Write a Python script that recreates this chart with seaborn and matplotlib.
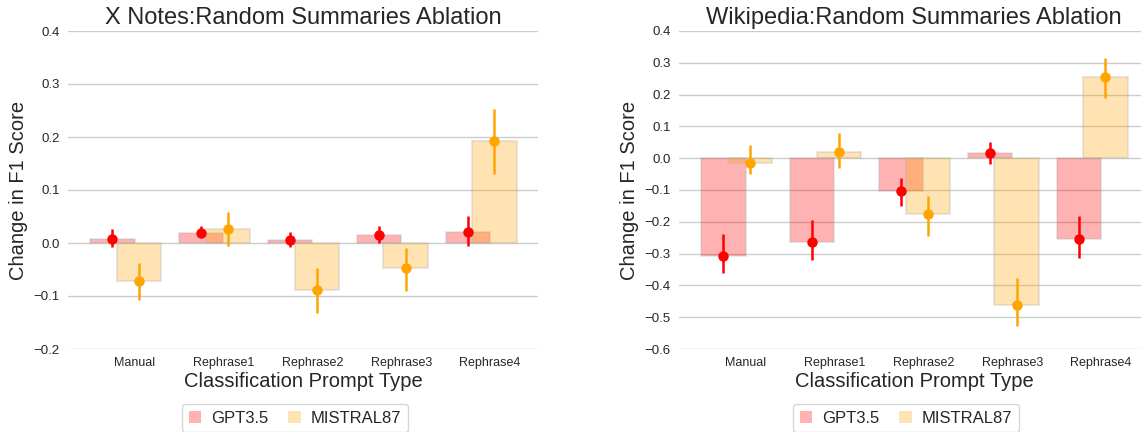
import numpy as np
import pandas as pd
import matplotlib
matplotlib.use("Agg")
import matplotlib.pyplot as plt
from matplotlib.patches import Patch
import seaborn as sns

categories = ["Manual", "Rephrase1", "Rephrase2", "Rephrase3", "Rephrase4"]
models = ["GPT3.5", "MISTRAL87"]

# X Notes panel
x_gpt_mean = [0.008, 0.019, 0.005, 0.015, 0.021]
x_gpt_lo = [-0.008, 0.011, -0.007, 0.000, -0.006]
x_gpt_hi = [0.027, 0.033, 0.020, 0.032, 0.051]
x_mis_mean = [-0.071, 0.026, -0.088, -0.048, 0.192]
x_mis_lo = [-0.107, -0.006, -0.132, -0.090, 0.130]
x_mis_hi = [-0.037, 0.059, -0.047, -0.010, 0.252]

# Wikipedia panel
w_gpt_mean = [-0.308, -0.265, -0.103, 0.017, -0.253]
w_gpt_lo = [-0.360, -0.321, -0.151, -0.017, -0.314]
w_gpt_hi = [-0.237, -0.195, -0.061, 0.051, -0.182]
w_mis_mean = [-0.015, 0.020, -0.177, -0.461, 0.255]
w_mis_lo = [-0.051, -0.031, -0.245, -0.527, 0.190]
w_mis_hi = [0.042, 0.080, -0.119, -0.376, 0.314]

titles = ["X Notes:Random Summaries Ablation", "Wikipedia:Random Summaries Ablation"]
x_yticks = [-0.2, -0.1, 0.0, 0.1, 0.2, 0.3, 0.4]
w_yticks = [-0.6, -0.5, -0.4, -0.3, -0.2, -0.1, 0.0, 0.1, 0.2, 0.3, 0.4]

sns.set_theme(style="whitegrid")
plt.rcParams["font.family"] = ["Liberation Sans", "DejaVu Sans"]

colors = {"GPT3.5": "red", "MISTRAL87": "orange"}
offsets = {"GPT3.5": -0.25, "MISTRAL87": 0.05}

fig = plt.figure(figsize=(11.41, 4.32), dpi=100)
ax1 = fig.add_axes([68 / 1141, 83 / 432, 470 / 1141, 318 / 432])
ax2 = fig.add_axes([679 / 1141, 83 / 432, 470 / 1141, 318 / 432])

panels = [
    (ax1, titles[0], x_yticks,
     {"GPT3.5": (x_gpt_mean, x_gpt_lo, x_gpt_hi), "MISTRAL87": (x_mis_mean, x_mis_lo, x_mis_hi)}),
    (ax2, titles[1], w_yticks,
     {"GPT3.5": (w_gpt_mean, w_gpt_lo, w_gpt_hi), "MISTRAL87": (w_mis_mean, w_mis_lo, w_mis_hi)}),
]

idx = np.arange(len(categories))
for ax, title, yticks, data in panels:
    for m in models:
        mean, lo, hi = data[m]
        df = pd.DataFrame({"pos": idx + offsets[m], "val": mean})
        sns.barplot(data=df, x="pos", y="val", native_scale=True, width=0.5,
                    color=colors[m], saturation=1, alpha=0.3, errorbar=None,
                    edgecolor="0.7", linewidth=1.5, ax=ax, zorder=2)
    for m in models:
        mean, lo, hi = data[m]
        mean = np.array(mean); lo = np.array(lo); hi = np.array(hi)
        ax.errorbar(idx + offsets[m], mean, yerr=[mean - lo, hi - mean], fmt="o",
                    color=colors[m], markersize=6.5, elinewidth=1.8, capsize=0, zorder=4)
    ax.set_xticks(idx)
    ax.set_xticklabels(categories, fontsize=9)
    ax.set_xlim(-0.75, 4.54)
    ax.set_ylim(yticks[0], yticks[-1])
    ax.set_yticks(yticks)
    ax.set_yticklabels([f"{t:.1f}".replace("-", "\u2212") for t in yticks], fontsize=9.5)
    ax.tick_params(axis="both", length=0, pad=6, colors="0.15")
    ax.grid(axis="x", visible=False)
    ax.grid(axis="y", color="0.8", linewidth=1.0)
    for s in ax.spines.values():
        s.set_visible(False)
    ax.set_title(title, fontsize=17, color="0.15", pad=5)
    ax.set_xlabel("Classification Prompt Type", fontsize=14.5, color="0.15", labelpad=2)
    ax.set_ylabel("Change in F1 Score", fontsize=14.5, color="0.15")
    handles = [Patch(facecolor=colors[m], alpha=0.3, edgecolor="none", label=m) for m in models]
    ax.legend(handles=handles, loc="upper center", bbox_to_anchor=(0.483, -0.173), ncol=2,
              fontsize=12, frameon=True, handlelength=0.75, handleheight=0.75,
              borderaxespad=0, columnspacing=1.2, handletextpad=0.6)

fig.savefig("out.png", dpi=100)
